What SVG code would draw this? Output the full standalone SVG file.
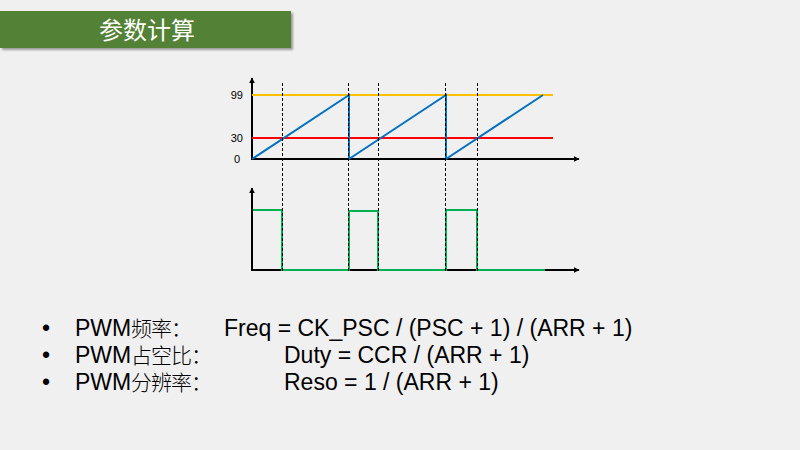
<svg xmlns="http://www.w3.org/2000/svg" width="800" height="450" viewBox="0 0 800 450">
<defs>
<style>
.ax{stroke:#000;stroke-width:2;fill:none}
.dash{stroke:#000;stroke-width:1;stroke-dasharray:3,2;fill:none}
.lbl{font-family:"Liberation Sans",Arial,sans-serif;font-size:11px;fill:#000;text-anchor:end}
.txt{font-family:"Liberation Sans","Noto Sans CJK SC",sans-serif;font-size:23px;fill:#000}
.cjk{font-family:"Liberation Sans","Noto Sans CJK SC",sans-serif;font-size:21px;font-weight:300;letter-spacing:-1px;fill:#000}
</style>
<marker id="arr" viewBox="0 0 10 10" refX="9" refY="5" markerWidth="6" markerHeight="6" markerUnits="userSpaceOnUse" orient="auto"><path d="M0,0 L10,5 L0,10 z" fill="#000"/></marker>
<filter id="sh" x="-5%" y="-20%" width="110%" height="150%"><feDropShadow dx="2" dy="2" stdDeviation="1" flood-color="#000" flood-opacity="0.35"/></filter>
</defs>
<rect width="800" height="450" fill="#f0f0f0"/>
<g id="title">
<rect x="0" y="11" width="291" height="37" fill="#538135" filter="url(#sh)"/>
<text x="147" y="38.5" font-family="'Noto Sans CJK SC',sans-serif" font-size="24" fill="#fff" text-anchor="middle">参数计算</text>
</g>
<g id="counter-chart">
<line class="ax" x1="252" y1="160" x2="252" y2="78" marker-end="url(#arr)"/>
<line class="ax" x1="251" y1="159" x2="579" y2="159" marker-end="url(#arr)"/>
<line x1="252" y1="95" x2="553" y2="95" stroke="#ffc000" stroke-width="2"/>
<line x1="252" y1="138" x2="553" y2="138" stroke="#ff0000" stroke-width="2"/>
<polyline points="252,159 349,95 349,159 446,95 446,159 543,95" stroke="#0070c0" stroke-width="2" fill="none"/>
<text class="lbl" x="243" y="99">99</text>
<text class="lbl" x="243" y="142">30</text>
<text class="lbl" x="240" y="163">0</text>
</g>
<g id="pwm-chart">
<line class="ax" x1="252" y1="271" x2="252" y2="188" marker-end="url(#arr)"/>
<line class="ax" x1="251" y1="270" x2="579" y2="270" marker-end="url(#arr)"/>
<polyline points="253,210 282,210 282,270 349,270 349,211 378,211 378,270 446,270 446,210 477,210 477,270 545,270" stroke="#00b050" stroke-width="2" fill="none"/>
</g>
<g id="connectors">
<line class="dash" x1="282.5" y1="83" x2="282.5" y2="272"/>
<line class="dash" x1="348.5" y1="83" x2="348.5" y2="272"/>
<line class="dash" x1="378.5" y1="83" x2="378.5" y2="272"/>
<line class="dash" x1="445.5" y1="83" x2="445.5" y2="272"/>
<line class="dash" x1="477.5" y1="83" x2="477.5" y2="272"/>
</g>
<g id="formulas">
<text class="txt" x="42" y="336">•</text>
<text class="txt" x="75" y="336">PWM</text>
<text class="cjk" x="131" y="336">频率：</text>
<text class="txt" x="224" y="336">Freq = CK_PSC / (PSC + 1) / (ARR + 1)</text>
<text class="txt" x="42" y="363">•</text>
<text class="txt" x="75" y="363">PWM</text>
<text class="cjk" x="131" y="363">占空比：</text>
<text class="txt" x="284" y="363">Duty = CCR / (ARR + 1)</text>
<text class="txt" x="42" y="390">•</text>
<text class="txt" x="75" y="390">PWM</text>
<text class="cjk" x="131" y="390">分辨率：</text>
<text class="txt" x="284" y="390">Reso = 1 / (ARR + 1)</text>
</g>
</svg>
